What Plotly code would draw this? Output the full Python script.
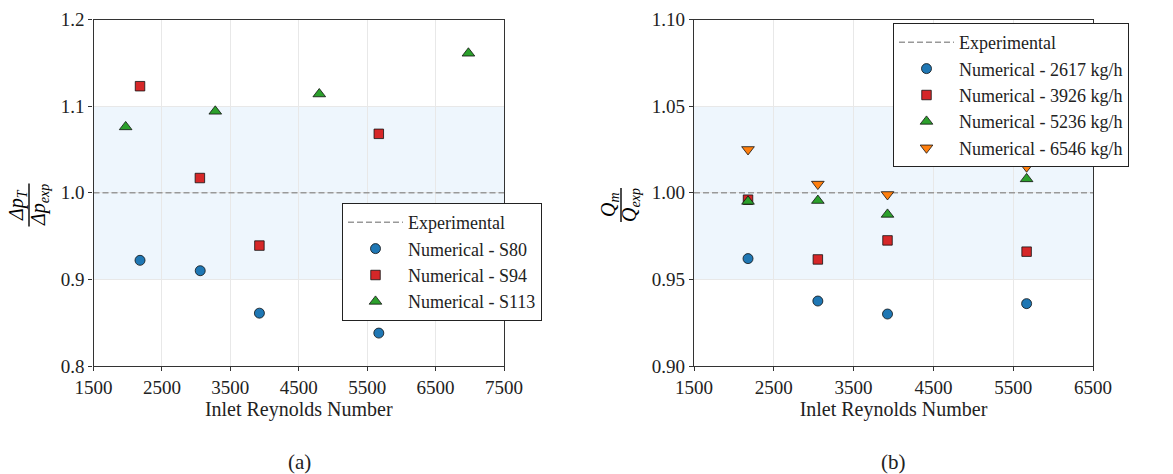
import plotly.graph_objects as go

W, H = 1173, 474

# ---------------- data ----------------
re_s80 = [2180, 3060, 3925, 5670]
dp_s80 = [0.922, 0.910, 0.861, 0.838]
re_s94 = [2180, 3055, 3925, 5670]
dp_s94 = [1.123, 1.017, 0.939, 1.068]
re_s113 = [1970, 3280, 4800, 6980]
dp_s113 = [1.076, 1.094, 1.114, 1.161]

re_b = [2177, 3052, 3925, 5668]
q_2617 = [0.962, 0.9375, 0.930, 0.936]
q_3926 = [0.996, 0.9615, 0.9725, 0.966]
q_5236 = [0.995, 0.9955, 0.9875, 1.008]
q_6546 = [1.025, 1.005, 0.999, 1.015]

band_a = [0.9, 1.1]
band_b = [0.95, 1.05]
exp_ref = 1.0
xr_a = [1500, 7500]
xr_b = [1500, 6500]
yr_a = [0.8, 1.2]
yr_b = [0.90, 1.10]
xt_a = [1500, 2500, 3500, 4500, 5500, 6500, 7500]
xt_b = [1500, 2500, 3500, 4500, 5500, 6500]
yt_a = [0.8, 0.9, 1.0, 1.1, 1.2]
yt_b = [0.90, 0.95, 1.00, 1.05, 1.10]
ytl_a = ["0.8", "0.9", "1.0", "1.1", "1.2"]
ytl_b = ["0.90", "0.95", "1.00", "1.05", "1.10"]

C_BLUE, C_RED, C_GREEN, C_ORANGE = "#1f77b4", "#d62728", "#2ca02c", "#ff7f0e"
FONT = "Liberation Serif"
TXT = "#222222"


def px_x(p):
    return p / W


def px_y(p):
    return 1 - p / H


fig = go.Figure()

mk_line = dict(color="#111111", width=0.8)


def add_pts(x, y, name, color, symbol, xa, ya, legend, size=10):
    fig.add_trace(go.Scatter(
        x=x, y=y, mode="markers", name=name, xaxis=xa, yaxis=ya, legend=legend,
        marker=dict(color=color, symbol=symbol, size=size, line=mk_line)))


dash_style = dict(color="#999999", width=1.6, dash="6px,3px")

fig.add_trace(go.Scatter(x=xr_a, y=[exp_ref, exp_ref], mode="lines", name="Experimental",
                         xaxis="x", yaxis="y", legend="legend", line=dash_style))
add_pts(re_s80, dp_s80, "Numerical - S80", C_BLUE, "circle", "x", "y", "legend")
add_pts(re_s94, dp_s94, "Numerical - S94", C_RED, "square", "x", "y", "legend", 9.5)
add_pts(re_s113, dp_s113, "Numerical - S113", C_GREEN, "triangle-up", "x", "y", "legend", 11)

fig.add_trace(go.Scatter(x=xr_b, y=[exp_ref, exp_ref], mode="lines", name="Experimental",
                         xaxis="x2", yaxis="y2", legend="legend2", line=dash_style))
add_pts(re_b, q_2617, "Numerical - 2617 kg/h", C_BLUE, "circle", "x2", "y2", "legend2")
add_pts(re_b, q_3926, "Numerical - 3926 kg/h", C_RED, "square", "x2", "y2", "legend2", 9.5)
add_pts(re_b, q_5236, "Numerical - 5236 kg/h", C_GREEN, "triangle-up", "x2", "y2", "legend2", 11)
add_pts(re_b, q_6546, "Numerical - 6546 kg/h", C_ORANGE, "triangle-down", "x2", "y2", "legend2", 11)

# tolerance bands
fig.add_shape(type="rect", xref="x domain", yref="y", x0=0, x1=1, y0=band_a[0], y1=band_a[1],
              fillcolor="#eef6fd", line_width=0, layer="below")
fig.add_shape(type="rect", xref="x2 domain", yref="y2", x0=0, x1=1, y0=band_b[0], y1=band_b[1],
              fillcolor="#eef6fd", line_width=0, layer="below")

axis_common = dict(showline=True, linecolor="#333333", linewidth=1.2, mirror=True,
                   ticks="outside", ticklen=4, tickwidth=1, tickcolor="#333333",
                   showgrid=True, gridcolor="#e8e8e8", gridwidth=1, zeroline=False,
                   automargin=False,
                   tickfont=dict(family=FONT, size=19, color=TXT))

dom_a = [px_x(93.5), px_x(504)]
dom_b = [px_x(694), px_x(1093)]
dom_y = [px_y(366), px_y(19.5)]

title_font = dict(family=FONT, size=20, color=TXT)
leg_font = dict(family=FONT, size=18, color=TXT)

fig.update_layout(
    template="none",
    width=W, height=H, margin=dict(l=0, r=0, t=0, b=0, autoexpand=False),
    paper_bgcolor="white", plot_bgcolor="rgba(0,0,0,0)",
    showlegend=True,
    font=dict(family=FONT, color=TXT),
    xaxis=dict(axis_common, domain=dom_a, range=xr_a, tickvals=xt_a, anchor="y",
               title=dict(text="Inlet Reynolds Number", font=title_font, standoff=0)),
    yaxis=dict(axis_common, domain=dom_y, range=yr_a, tickvals=yt_a, ticktext=ytl_a, anchor="x"),
    xaxis2=dict(axis_common, domain=dom_b, range=xr_b, tickvals=xt_b, anchor="y2",
                title=dict(text="Inlet Reynolds Number", font=title_font, standoff=0)),
    yaxis2=dict(axis_common, domain=dom_y, range=yr_b, tickvals=yt_b, ticktext=ytl_b, anchor="x2"),
    legend=dict(x=px_x(442), y=px_y(262), xanchor="center", yanchor="middle",
                bgcolor="white", bordercolor="#222222", borderwidth=1,
                font=leg_font, itemwidth=55, tracegroupgap=0),
    legend2=dict(x=px_x(1011), y=px_y(95), xanchor="center", yanchor="middle",
                 bgcolor="white", bordercolor="#222222", borderwidth=1,
                 font=leg_font, itemwidth=55, tracegroupgap=0),
)


# rotated fraction y-labels
def frac(xn, xd, xbar, yc, num, den, half):
    for xx, tt in ((xn, num), (xd, den)):
        fig.add_annotation(xref="paper", yref="paper", x=px_x(xx), y=px_y(yc), text=tt,
                           textangle=-90, showarrow=False,
                           font=dict(family=FONT, size=20, color="black"),
                           xanchor="center", yanchor="middle")
    fig.add_shape(type="line", xref="paper", yref="paper", x0=px_x(xbar), x1=px_x(xbar),
                  y0=px_y(yc - half), y1=px_y(yc + half), line=dict(color="black", width=1.4))


frac(18, 40, 29, 205, "<i>Δp<sub>T</sub></i>", "<i>Δp<sub>exp</sub></i>", 21.5)
frac(610, 631, 621, 205, "<i>Q<sub>m</sub></i>", "<i>Q<sub>exp</sub></i>", 17)

# captions
for cx, ct in ((299, "(a)"), (893, "(b)")):
    fig.add_annotation(xref="paper", yref="paper", x=px_x(cx), y=px_y(462), text=ct, showarrow=False,
                       font=dict(family=FONT, size=21, color=TXT), xanchor="center", yanchor="middle")

# remove the default page margin so the figure fills the window exactly
fig.write_html("out.html", config={"displayModeBar": False},
               post_script="document.body.style.margin='0';document.body.style.overflow='hidden';")
